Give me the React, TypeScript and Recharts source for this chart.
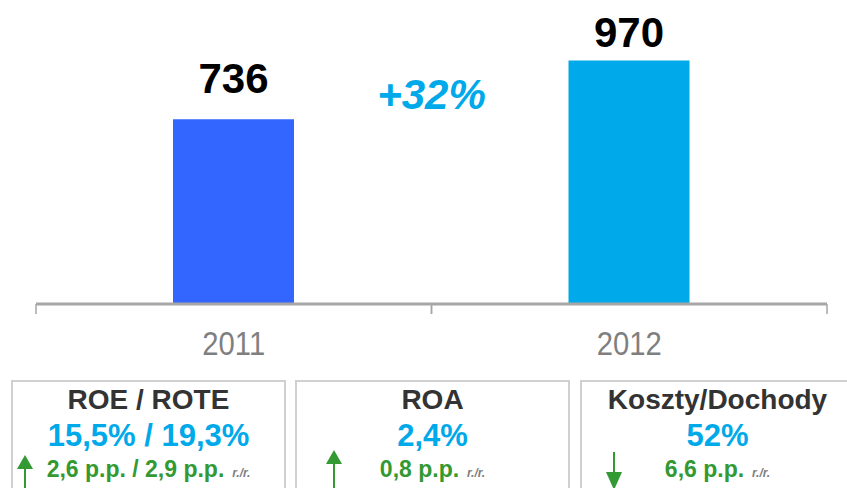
import React from 'react';
import { BarChart, Bar, XAxis, YAxis, Cell, LabelList } from 'recharts';

const years = ['2011', '2012'];
const profit = [736, 970];

const kpiTitles = ['ROE / ROTE', 'ROA', 'Koszty/Dochody'];
const kpiValues = ['15,5% / 19,3%', '2,4%', '52%'];
const kpiChanges = ['2,6 p.p. / 2,9 p.p.', '0,8 p.p.', '6,6 p.p.'];
const kpiDirections = ['up', 'up', 'down'];

const W = 847;
const H = 488;
const FONT = '"Liberation Sans", Arial, sans-serif';
const BLUE = '#00A9E9';
const GREEN = '#339933';
const barColors = ['#3366FF', BLUE];
const margin = { top: 53, right: 20, left: 36, bottom: 0 };

// box placement for the three KPI panels
const boxes = [
  { left: 11, arrowX: 12, arrowTop: 73 },
  { left: 295, arrowX: 37, arrowTop: 68 },
  { left: 580, arrowX: 32, arrowTop: 70 },
];

const chartData = years.map((y, i) => ({ year: y, value: profit[i] }));
const growth = Math.round((profit[1] / profit[0] - 1) * 100);
const band = (W - margin.left - margin.right) / years.length;

const YearTick = (props: any) => {
  const { x, y, payload } = props;
  return (
    <g>
      <line x1={x - band / 2} x2={x - band / 2} y1={y} y2={y + 10} stroke="#A6A6A6" strokeWidth={1.5} />
      <line x1={x + band / 2} x2={x + band / 2} y1={y} y2={y + 10} stroke="#A6A6A6" strokeWidth={1.5} />
      <g transform={`translate(${x},${y + 51}) scale(0.9,1)`}>
        <text x={0} y={0} textAnchor="middle" fill="#7F7F7F" fontSize={32.5} fontFamily={FONT}>
          {payload.value}
        </text>
      </g>
    </g>
  );
};

const ValueLabel = (props: any) => {
  const { x, y, width, value } = props;
  // keep the label inside the top of the picture
  const ly = Math.max(y - 26, 47);
  return (
    <text x={x + width / 2} y={ly} textAnchor="middle" fill="#000" fontSize={42}
      fontWeight="bold" fontFamily={FONT}>
      {value}
    </text>
  );
};

const Arrow = ({ dir }: { dir: string }) => (
  <svg width={20} height={40} style={{ display: 'block' }}>
    {dir === 'up' ? (
      <g fill={GREEN} stroke={GREEN}>
        <polygon points="2,14 10,0 18,14" stroke="none" />
        <line x1={10} x2={10} y1={12} y2={40} strokeWidth={2} />
      </g>
    ) : (
      <g fill={GREEN} stroke={GREEN}>
        <line x1={10} x2={10} y1={0} y2={22} strokeWidth={2} />
        <polygon points="2,20 10,38 18,20" stroke="none" />
      </g>
    )}
  </svg>
);

export default function App() {
  return (
    <div style={{ position: 'absolute', top: 0, left: 0, width: W, height: H, overflow: 'hidden', background: '#fff', fontFamily: FONT }}>
      <BarChart width={W} height={380} data={chartData} margin={margin} barSize={121}>
        <YAxis hide domain={[0, 1000]} />
        <XAxis dataKey="year" height={76} axisLine={{ stroke: '#A6A6A6', strokeWidth: 3 }}
          tickLine={false} tickSize={0} tickMargin={0} tick={<YearTick />} interval={0} />
        <Bar dataKey="value" isAnimationActive={false}>
          {chartData.map((d, i) => (
            <Cell key={d.year} fill={barColors[i]} />
          ))}
          <LabelList dataKey="value" content={<ValueLabel />} />
        </Bar>
      </BarChart>

      <div style={{ position: 'absolute', left: margin.left + band - 100, width: 200, top: 74, textAlign: 'center',
        fontSize: 42, lineHeight: '42px', fontWeight: 'bold', fontStyle: 'italic', color: BLUE }}>
        +{growth}%
      </div>

      {kpiTitles.map((t, i) => (
        <div key={t} style={{ position: 'absolute', left: boxes[i].left, top: 380, width: 271, height: 120,
          border: '2px solid #D0D0D0', textAlign: 'center' }}>
          <div style={{ position: 'absolute', left: 0, right: 0, top: 4, fontSize: 28, lineHeight: '28px', fontWeight: 'bold', color: '#333' }}>
            {t}
          </div>
          <div style={{ position: 'absolute', left: 0, right: 0, top: 38, fontSize: 31, lineHeight: '31px', fontWeight: 'bold', color: BLUE }}>
            {kpiValues[i]}
          </div>
          <div style={{ position: 'absolute', left: 0, right: 0, top: 76, fontSize: 23, lineHeight: '23px', fontWeight: 'bold', color: GREEN, whiteSpace: 'nowrap' }}>
            {kpiChanges[i]}
            <span style={{ fontSize: 12, fontStyle: 'italic', color: '#7F7F7F', marginLeft: 8 }}>r./r.</span>
          </div>
          <div style={{ position: 'absolute', left: boxes[i].arrowX - 10, top: boxes[i].arrowTop }}>
            <Arrow dir={kpiDirections[i]} />
          </div>
        </div>
      ))}
    </div>
  );
}
